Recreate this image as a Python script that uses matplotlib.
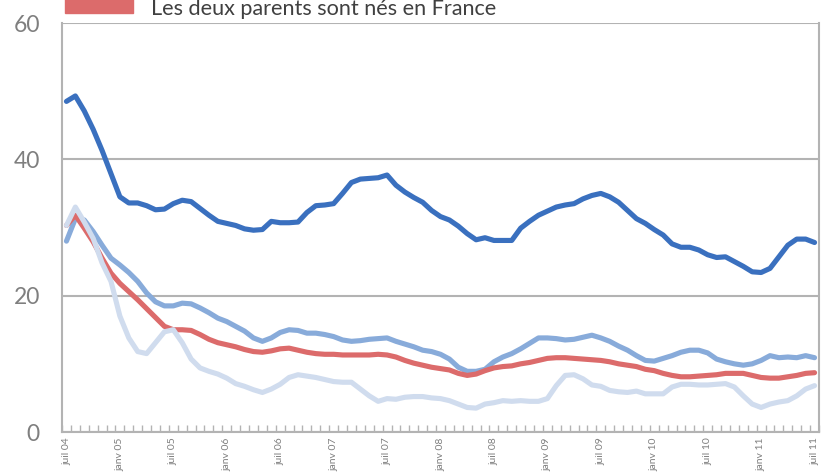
import matplotlib
matplotlib.use("Agg")
import matplotlib.pyplot as plt
import matplotlib.patches as mpatches
import numpy as np

plt.rcParams['font.family'] = ['Lato', 'DejaVu Sans']

tick_labels = ["juil 04", "janv 05", "juil 05", "janv 06", "juil 06", "janv 07",
               "juil 07", "janv 08", "juil 08", "janv 09", "juil 09", "janv 10",
               "juil 10", "janv 11", "juil 11"]

dark_blue = [48.5, 49.3, 47.1, 44.4, 41.3, 37.9, 34.5, 33.6, 33.6, 33.2,
             32.6, 32.7, 33.5, 34.0, 33.8, 32.8, 31.8, 30.9, 30.6, 30.3,
             29.8, 29.6, 29.7, 30.9, 30.7, 30.7, 30.8, 32.2, 33.2, 33.3,
             33.5, 35.0, 36.6, 37.1, 37.2, 37.3, 37.7, 36.2, 35.2, 34.4,
             33.7, 32.5, 31.6, 31.1, 30.2, 29.1, 28.2, 28.5, 28.1, 28.1,
             28.1, 29.9, 30.9, 31.8, 32.4, 33.0, 33.3, 33.5, 34.2, 34.7,
             35.0, 34.5, 33.7, 32.5, 31.3, 30.6, 29.7, 28.9, 27.6, 27.1,
             27.1, 26.7, 26.0, 25.6, 25.7, 25.0, 24.3, 23.5, 23.4, 24.0,
             25.7, 27.4, 28.3, 28.3, 27.8]

medium_blue = [28.0, 31.3, 31.1, 29.4, 27.4, 25.5, 24.5, 23.4, 22.1, 20.4,
               19.1, 18.5, 18.5, 18.9, 18.8, 18.2, 17.5, 16.7, 16.2, 15.5,
               14.8, 13.8, 13.3, 13.8, 14.6, 15.0, 14.9, 14.5, 14.5, 14.3,
               14.0, 13.5, 13.3, 13.4, 13.6, 13.7, 13.8, 13.3, 12.9, 12.5,
               12.0, 11.8, 11.4, 10.7, 9.5, 8.9, 8.9, 9.2, 10.3, 11.0,
               11.5, 12.2, 13.0, 13.8, 13.8, 13.7, 13.5, 13.6, 13.9, 14.2,
               13.8, 13.3, 12.6, 12.0, 11.2, 10.5, 10.4, 10.8, 11.2, 11.7,
               12.0, 12.0, 11.6, 10.7, 10.3, 10.0, 9.8, 10.0, 10.5, 11.2,
               10.9, 11.0, 10.9, 11.2, 10.9]

red_france = [30.3, 31.8, 29.9, 27.9, 25.5, 23.3, 21.8, 20.6, 19.4, 18.1,
              16.8, 15.5, 15.0, 15.0, 14.9, 14.3, 13.6, 13.1, 12.8, 12.5,
              12.1, 11.8, 11.7, 11.9, 12.2, 12.3, 12.0, 11.7, 11.5, 11.4,
              11.4, 11.3, 11.3, 11.3, 11.3, 11.4, 11.3, 11.0, 10.5, 10.1,
              9.8, 9.5, 9.3, 9.1, 8.6, 8.3, 8.5, 9.0, 9.4, 9.6,
              9.7, 10.0, 10.2, 10.5, 10.8, 10.9, 10.9, 10.8, 10.7, 10.6,
              10.5, 10.3, 10.0, 9.8, 9.6, 9.2, 9.0, 8.6, 8.3, 8.1,
              8.1, 8.2, 8.3, 8.4, 8.6, 8.6, 8.6, 8.3, 8.0, 7.9,
              7.9, 8.1, 8.3, 8.6, 8.7]

light_blue = [30.3, 33.0, 30.8, 28.4, 24.8, 22.1, 17.0, 13.8, 11.8, 11.5,
              13.1, 14.7, 15.0, 13.1, 10.7, 9.4, 8.9, 8.5, 7.9, 7.1,
              6.7, 6.2, 5.8, 6.3, 7.0, 8.0, 8.4, 8.2, 8.0, 7.7,
              7.4, 7.3, 7.3, 6.3, 5.3, 4.5, 4.9, 4.8, 5.1, 5.2,
              5.2, 5.0, 4.9, 4.6, 4.1, 3.6, 3.5, 4.1, 4.3, 4.6,
              4.5, 4.6, 4.5, 4.5, 4.9, 6.8, 8.3, 8.4, 7.8, 6.9,
              6.7, 6.1, 5.9, 5.8, 6.0, 5.6, 5.6, 5.6, 6.6, 7.0,
              7.0, 6.9, 6.9, 7.0, 7.1, 6.6, 5.3, 4.1, 3.6, 4.1,
              4.4, 4.6, 5.3, 6.3, 6.8]

legend_label = "Les deux parents sont nés en France"

W, H = 828, 473
fig = plt.figure(figsize=(W / 100, H / 100), dpi=100)
ax = fig.add_axes([62 / W, (H - 432) / H, (819 - 62) / W, (432 - 23) / H])

x = np.arange(len(dark_blue))
lw = 3.7
ax.plot(x, dark_blue, color="#3a70bf", lw=lw, solid_capstyle="round", zorder=3)
ax.plot(x, medium_blue, color="#88abda", lw=lw, solid_capstyle="round", zorder=3)
ax.plot(x, red_france, color="#dc6b6b", lw=lw, solid_capstyle="round", zorder=4)
ax.plot(x, light_blue, color="#d0dcee", lw=lw, solid_capstyle="round", zorder=5)

ax.set_xlim(-0.5, len(dark_blue) - 0.5)
ax.set_ylim(0, 60)

grid_c = "#b3b3b3"
ax.set_yticks([0, 20, 40, 60])
ax.set_yticklabels(["0", "20", "40", "60"])
ax.yaxis.grid(True, color=grid_c, lw=1.5)
ax.set_axisbelow(True)
ax.tick_params(axis="y", length=0, pad=16, labelsize=16.5, labelcolor="#7f7f7f")

ax.set_xticks(np.arange(0, len(dark_blue), 6))
ax.set_xticklabels(tick_labels, rotation=90, va="top", ha="center")
ax.set_xticks(np.arange(-0.5, len(dark_blue), 1), minor=True)
ax.tick_params(axis="x", which="major", length=0, pad=4, labelsize=7.5, labelcolor="#7f7f7f")
ax.tick_params(axis="x", which="minor", direction="in", length=5, width=1, color=grid_c)

for s in ["left", "right", "bottom"]:
    ax.spines[s].set_color(grid_c)
    ax.spines[s].set_linewidth(1.5)
ax.spines["top"].set_visible(False)

fig.add_artist(mpatches.Rectangle((65 / W, (H - 13) / H), 68 / W, 0.05,
                                  transform=fig.transFigure, color="#dc6b6b"))
fig.text(151 / W, (H - 15) / H, legend_label, fontsize=15.6, color="#404040",
         va="baseline", ha="left")

fig.savefig("out.png", dpi=100)
